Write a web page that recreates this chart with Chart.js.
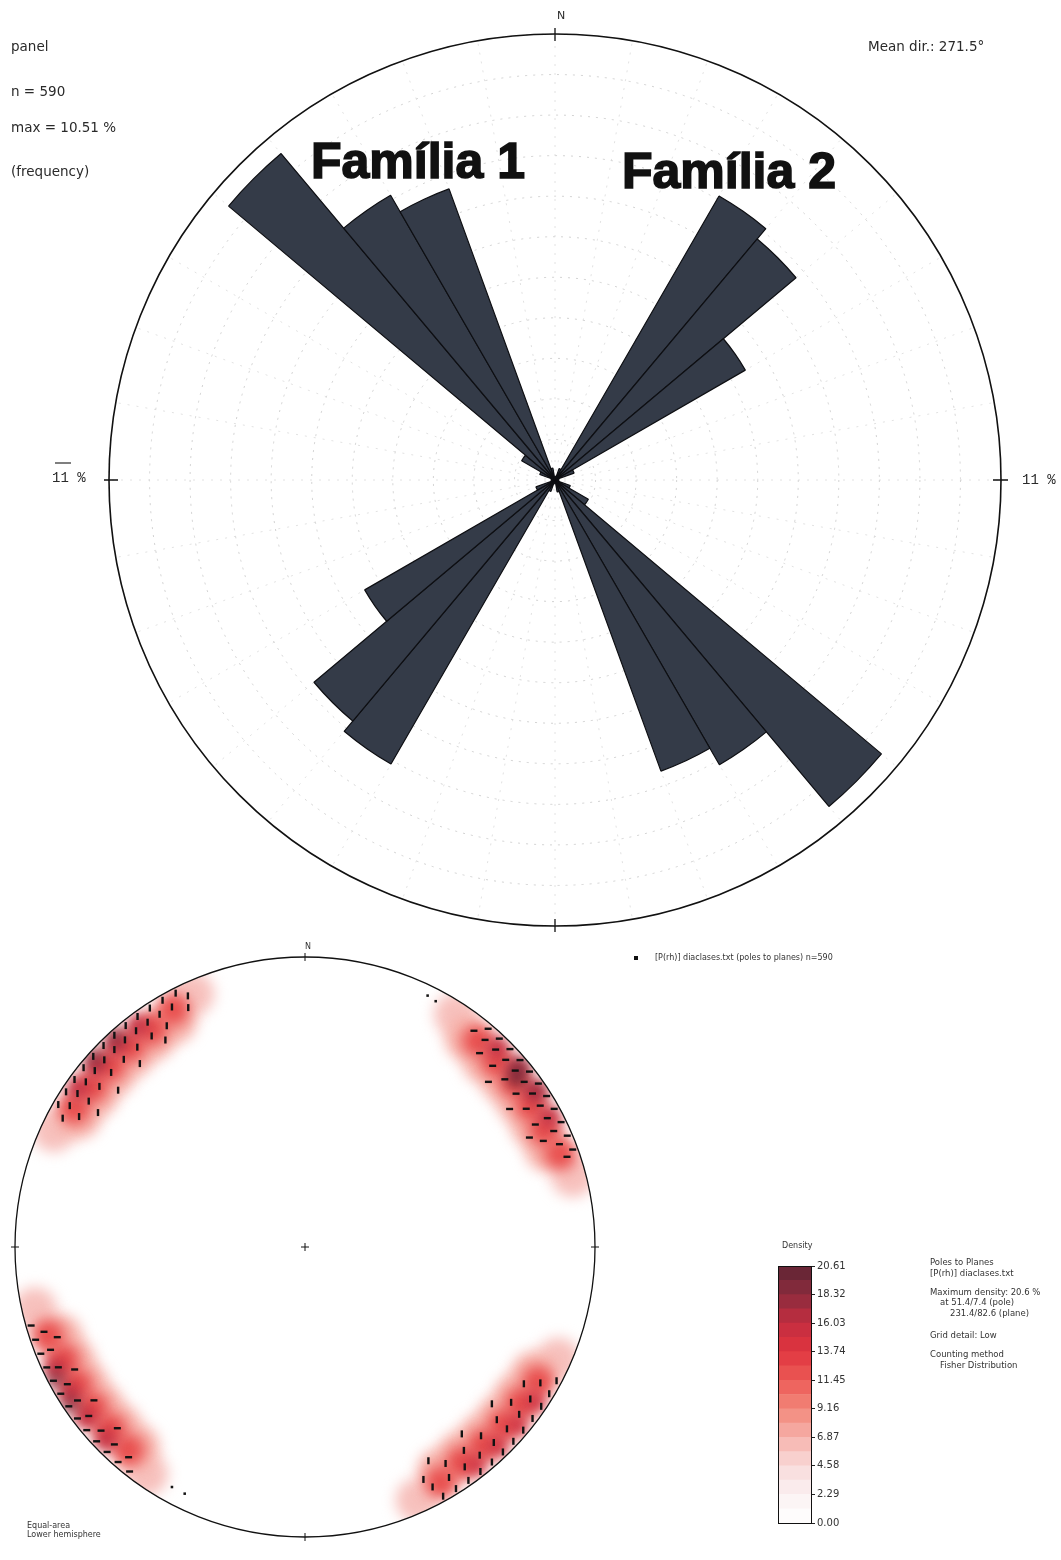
<!DOCTYPE html>
<html>
<head>
<meta charset="utf-8">
<script src="https://cdn.jsdelivr.net/npm/chart.js@4.4.0/dist/chart.umd.min.js"></script>
<style>
  html, body { margin: 0; padding: 0; background: #fff; }
  body { width: 1061px; height: 1560px; position: relative; overflow: hidden;
         font-family: 'DejaVu Sans', sans-serif; color: #2a2a2a; }
  .abs { position: absolute; }
  .tiny { font-size: 8px; line-height: 10px; white-space: pre; color: #333; }
  .info { font-size: 8.5px; line-height: 10px; white-space: pre; color: #333; }
</style>
</head>
<body>
<div class="abs" style="left:0;top:0;width:1061px;height:940px"><canvas id="rose" width="1061" height="940"></canvas></div>
<div class="abs" style="left:0;top:940px;width:1061px;height:620px"><canvas id="net" width="1061" height="620"></canvas></div>
<div class="abs" style="left:778px;top:1256px;width:80px;height:277px"><canvas id="cbar" width="80" height="277"></canvas></div>

<!-- legend + info block beside the stereonet -->
<div class="abs" style="left:634px;top:956px;width:4px;height:4px;background:#111"></div>
<div class="abs tiny" style="left:655px;top:953px">[P(rh)] diaclases.txt (poles to planes) n=590</div>
<div class="abs tiny" style="left:782px;top:1241px">Density</div>
<div class="abs info" style="left:930px;top:1257px">Poles to Planes</div>
<div class="abs info" style="left:930px;top:1268px">[P(rh)] diaclases.txt</div>
<div class="abs info" style="left:930px;top:1287px">Maximum density: 20.6 %</div>
<div class="abs info" style="left:940px;top:1297px">at 51.4/7.4 (pole)</div>
<div class="abs info" style="left:950px;top:1308px">231.4/82.6 (plane)</div>
<div class="abs info" style="left:930px;top:1330px">Grid detail: Low</div>
<div class="abs info" style="left:930px;top:1349px">Counting method</div>
<div class="abs info" style="left:940px;top:1360px">Fisher Distribution</div>
<div class="abs tiny" style="left:27px;top:1521px">Equal-area</div>
<div class="abs tiny" style="left:27px;top:1530px">Lower hemisphere</div>

<script>
// ---------------------------------------------------------------------------
// Rose diagram: 10° bins, clockwise from north (bidirectional data)
// ---------------------------------------------------------------------------
const binLabels = [
  '0-10', '10-20', '20-30', '30-40', '40-50', '50-60', '60-70', '70-80', '80-90',
  '90-100', '100-110', '110-120', '120-130', '130-140', '140-150', '150-160', '160-170', '170-180',
  '180-190', '190-200', '200-210', '210-220', '220-230', '230-240', '240-250', '250-260', '260-270',
  '270-280', '280-290', '290-300', '300-310', '310-320', '320-330', '330-340', '340-350', '350-360'
];
const roseFreq = [
  0.0, 0.1, 0.3, 8.09, 7.76, 5.42, 0.5, 0.1, 0.0,
  0.0, 0.1, 0.4, 0.95, 10.51, 8.11, 7.64, 0.3, 0.0,
  0.0, 0.1, 0.3, 8.09, 7.76, 5.42, 0.5, 0.1, 0.0,
  0.0, 0.1, 0.4, 0.95, 10.51, 8.11, 7.64, 0.3, 0.0
];
const roseMax = 11;

// ---------------------------------------------------------------------------
// Stereonet: poles to planes as [trend, plunge]
// ---------------------------------------------------------------------------
const polesNW = [
  [300, 2], [303, 2], [306, 2], [309, 2], [312, 2], [315, 2], [318, 2], [321, 2], [324, 2], [327, 2], [330, 2], [333, 2],
  [298, 6], [301, 6], [304, 6], [307, 6], [310, 6], [313, 6], [316, 6], [319, 6], [322, 6], [325, 6], [328, 6], [331, 6], [335, 5],
  [300, 11], [304, 11], [308, 11], [312, 11], [316, 11], [320, 11], [324, 11], [328, 11], [334, 9],
  [303, 16], [310, 17], [318, 16], [326, 15]
];
const polesNE = [
  [40, 2], [43, 2], [46, 2], [49, 2], [52, 2], [55, 2], [58, 2], [61, 2], [64, 2], [67, 2], [70, 2],
  [38, 6], [41, 6], [44, 6], [47, 6], [50, 6], [53, 6], [56, 6], [59, 6], [62, 6], [65, 6], [68, 6], [71, 5],
  [42, 11], [46, 11], [50, 11], [54, 11], [58, 11], [62, 11], [66, 11],
  [48, 16], [56, 16], [64, 15]
];
const polesSE = [
  [118, 2], [121, 2], [124, 2], [127, 2], [130, 2], [133, 2], [136, 2], [139, 2], [142, 2], [145, 2], [148, 2], [151, 2],
  [120, 7], [124, 7], [128, 7], [132, 7], [136, 7], [140, 7], [144, 7], [148, 7], [152, 7],
  [122, 12], [127, 12], [132, 12], [137, 12], [142, 12], [147, 12], [153, 11],
  [130, 17], [140, 17], [150, 16]
];
const polesSW = [
  [218, 2], [221, 2], [224, 2], [227, 2], [230, 2], [233, 2], [236, 2], [239, 2], [242, 2], [245, 2], [248, 2], [251, 2], [254, 2],
  [220, 6], [224, 6], [228, 6], [232, 6], [236, 6], [240, 6], [244, 6], [248, 6], [252, 6],
  [226, 11], [234, 11], [242, 11], [250, 10]
];
const polesStray = [[26, 4], [28, 4.5], [206, 6], [209, 6]];

// Fisher density cells: [trend, plunge, density %]
const densityCells = [
  // NW
  [295, 5, 6], [300, 11, 7], [306, 12, 7], [312, 12, 7], [318, 12, 7], [324, 12, 7], [330, 11, 7], [336, 5, 6],
  [301, 8, 12], [307, 9, 12], [313, 9, 12], [319, 9, 12], [325, 9, 12], [331, 7, 12],
  [305, 5, 16], [311, 5, 16], [317, 5, 16], [323, 5, 16],
  [312, 3, 19], [318, 3, 19],
  // NE
  [33, 5, 6], [38, 10, 7], [44, 12, 7], [50, 12, 7], [56, 12, 7], [62, 12, 7], [68, 11, 7], [75, 5, 6],
  [40, 8, 12], [46, 9, 12], [52, 9, 12], [58, 9, 12], [64, 9, 12], [70, 7, 12],
  [44, 5, 16], [50, 5, 16], [56, 5, 16], [62, 5, 16],
  [50, 4, 19], [56, 4, 18], [51.4, 7.4, 20.6],
  // SE
  [114, 5, 6], [119, 11, 7], [125, 12, 7], [131, 12, 7], [137, 12, 7], [143, 12, 7], [149, 11, 7], [156, 5, 6],
  [120, 8, 12], [126, 9, 12], [132, 9, 12], [138, 9, 12], [144, 9, 12], [150, 7, 12],
  [124, 5, 15], [130, 5, 15], [136, 5, 15], [142, 5, 15],
  // SW
  [215, 5, 6], [220, 11, 7], [226, 12, 7], [232, 12, 7], [238, 12, 7], [244, 12, 7], [250, 11, 7], [257, 5, 6],
  [221, 8, 12], [227, 9, 12], [233, 9, 12], [239, 9, 12], [245, 9, 12], [251, 7, 12],
  [226, 5, 16], [232, 5, 16], [238, 5, 16], [244, 5, 16],
  [236, 3, 19], [242, 3, 19]
];

// colour scale
const densityTicks = [0.00, 2.29, 4.58, 6.87, 9.16, 11.45, 13.74, 16.03, 18.32, 20.61];
const densityColors = ['#ffffff', '#fbf1f2', '#f8dada', '#f6b2ab', '#f2877a', '#ec5a56', '#e0353f', '#c22d40', '#8c2b3d', '#5f2534'];
const bandEdges = [0, 1.145, 2.29, 3.435, 4.58, 5.725, 6.87, 8.015, 9.16, 10.305,
                   11.45, 12.595, 13.74, 14.885, 16.03, 17.175, 18.32, 19.465, 20.61];

// ---------------------------------------------------------------------------
// helpers
// ---------------------------------------------------------------------------
function hexRgb(h) {
  const n = parseInt(h.slice(1), 16);
  return [(n >> 16) & 255, (n >> 8) & 255, n & 255];
}
function cmap(v) {
  if (v <= densityTicks[0]) return densityColors[0];
  for (let i = 1; i < densityTicks.length; i++) {
    if (v <= densityTicks[i]) {
      const t = (v - densityTicks[i - 1]) / (densityTicks[i] - densityTicks[i - 1]);
      const a = hexRgb(densityColors[i - 1]), b = hexRgb(densityColors[i]);
      const c = a.map((x, k) => Math.round(x + (b[k] - x) * t));
      return `rgb(${c[0]},${c[1]},${c[2]})`;
    }
  }
  return densityColors[densityColors.length - 1];
}
// Schmidt (equal-area, lower hemisphere) projection onto the unit circle
function project([trend, plunge]) {
  const r = Math.SQRT2 * Math.sin((90 - plunge) * Math.PI / 360);
  const t = trend * Math.PI / 180;
  return { x: r * Math.sin(t), y: r * Math.cos(t) };
}
function text(ctx, s, x, y, font, align = 'left', color = '#2a2a2a') {
  ctx.font = font;
  ctx.fillStyle = color;
  ctx.textAlign = align;
  ctx.textBaseline = 'middle';
  ctx.fillText(s, x, y);
}

// ---------------------------------------------------------------------------
// Rose chart
// ---------------------------------------------------------------------------
const roseDecor = {
  id: 'roseDecor',
  afterDraw(chart) {
    const { ctx } = chart;
    const r = chart.scales.r;
    const cx = r.xCenter, cy = r.yCenter, R = r.drawingArea;
    ctx.save();
    ctx.strokeStyle = '#111';
    ctx.lineWidth = 1.6;
    ctx.beginPath();
    ctx.arc(cx, cy, R, 0, Math.PI * 2);
    ctx.stroke();
    // cardinal ticks
    ctx.lineWidth = 1.3;
    ctx.beginPath();
    ctx.moveTo(cx, cy - R - 6); ctx.lineTo(cx, cy - R + 7);
    ctx.moveTo(cx, cy + R - 7); ctx.lineTo(cx, cy + R + 6);
    ctx.moveTo(cx - R - 5, cy); ctx.lineTo(cx - R + 9, cy);
    ctx.moveTo(cx + R - 8, cy); ctx.lineTo(cx + R + 7, cy);
    ctx.stroke();

    const f = "13.5px 'DejaVu Sans'";
    text(ctx, 'panel', 11, 47, f);
    text(ctx, 'n = 590', 11, 92, f);
    text(ctx, 'max = 10.51 %', 11, 128, f);
    text(ctx, '(frequency)', 11, 172, f);
    text(ctx, 'Mean dir.: 271.5°', 868, 47, f);
    text(ctx, 'N', cx + 6, 16, "11px 'DejaVu Sans'", 'center');
    const m = "14px 'Liberation Mono'";
    text(ctx, '11 %', 1022, 480, m);
    text(ctx, '11 %', 52, 478, m);
    ctx.strokeStyle = '#2a2a2a';
    ctx.lineWidth = 1.2;
    ctx.beginPath();
    ctx.moveTo(55, 463); ctx.lineTo(71, 463);
    ctx.stroke();

    // family labels
    ctx.font = "bold 50px 'Liberation Sans'";
    ctx.textAlign = 'left';
    ctx.textBaseline = 'alphabetic';
    ctx.fillStyle = '#111';
    ctx.strokeStyle = '#111';
    ctx.lineWidth = 1.6;
    ctx.fillText('Família 1', 311, 178);
    ctx.strokeText('Família 1', 311, 178);
    ctx.fillText('Família 2', 622, 188);
    ctx.strokeText('Família 2', 622, 188);
    ctx.restore();
  }
};

new Chart(document.getElementById('rose'), {
  type: 'polarArea',
  data: {
    labels: binLabels,
    datasets: [{
      data: roseFreq,
      backgroundColor: '#343b48',
      borderColor: '#0d0e12',
      borderWidth: 1.2,
    }],
  },
  options: {
    responsive: false,
    animation: false,
    events: [],
    layout: { padding: { left: 109, top: 34, right: 60, bottom: 14 }, autoPadding: false },
    plugins: { legend: { display: false }, tooltip: { enabled: false } },
    scales: {
      r: {
        min: 0,
        max: roseMax,
        ticks: { display: false, stepSize: 1 },
        grid: { color: '#cdcdcd', lineWidth: 0.9 },
        border: { dash: [2, 6] },
        angleLines: { display: true, color: '#dadada', lineWidth: 0.8, borderDash: [2, 7] },
        pointLabels: { display: false },
      },
    },
  },
  plugins: [roseDecor],
});

// ---------------------------------------------------------------------------
// Stereonet
// ---------------------------------------------------------------------------
function netGeom(chart) {
  const x = chart.scales.x, y = chart.scales.y;
  const cx = x.getPixelForValue(0), cy = y.getPixelForValue(0);
  return { cx, cy, R: x.getPixelForValue(1) - cx };
}

const netDecor = {
  id: 'netDecor',
  beforeDatasetDraw(chart, args) {
    if (chart.data.datasets[args.index].label !== 'density') return;
    const { ctx } = chart;
    const { cx, cy, R } = netGeom(chart);
    ctx.save();
    ctx.beginPath();
    ctx.arc(cx, cy, R, 0, Math.PI * 2);
    ctx.clip();
    ctx.filter = 'blur(7px)';
  },
  afterDatasetDraw(chart, args) {
    if (chart.data.datasets[args.index].label !== 'density') return;
    chart.ctx.restore();
  },
  afterDatasetsDraw(chart) {
    const { ctx } = chart;
    const { cx, cy, R } = netGeom(chart);
    ctx.save();
    ctx.strokeStyle = '#111';
    ctx.lineWidth = 1.3;
    ctx.beginPath();
    ctx.arc(cx, cy, R, 0, Math.PI * 2);
    ctx.stroke();
    ctx.lineWidth = 1;
    ctx.beginPath();
    ctx.moveTo(cx, cy - R - 4); ctx.lineTo(cx, cy - R + 4);
    ctx.moveTo(cx, cy + R - 4); ctx.lineTo(cx, cy + R + 4);
    ctx.moveTo(cx - R - 4, cy); ctx.lineTo(cx - R + 4, cy);
    ctx.moveTo(cx + R - 4, cy); ctx.lineTo(cx + R + 4, cy);
    ctx.moveTo(cx - 4, cy); ctx.lineTo(cx + 4, cy);
    ctx.moveTo(cx, cy - 4); ctx.lineTo(cx, cy + 4);
    ctx.stroke();
    ctx.restore();
    text(ctx, 'N', cx + 3, cy - R - 10, "8px 'DejaVu Sans'", 'center', '#333');
  }
};

const poleStyle = {
  pointStyle: 'line',
  pointRadius: 3.5,
  pointBorderWidth: 2.4,
  pointBorderColor: '#121212',
  order: 1,
};

new Chart(document.getElementById('net'), {
  type: 'scatter',
  data: {
    datasets: [
      { label: 'poles NW', data: polesNW.map(project), pointRotation: 90, ...poleStyle },
      { label: 'poles NE', data: polesNE.map(project), pointRotation: 0, ...poleStyle },
      { label: 'poles SE', data: polesSE.map(project), pointRotation: 90, ...poleStyle },
      { label: 'poles SW', data: polesSW.map(project), pointRotation: 0, ...poleStyle },
      {
        label: 'poles', data: polesStray.map(project), order: 1,
        pointStyle: 'rect', pointRadius: 1.8, pointBorderWidth: 0, pointBackgroundColor: '#141414',
      },
      {
        label: 'density',
        order: 2,
        data: densityCells.slice().sort((a, b) => a[2] - b[2])
          .map(d => ({ ...project(d), level: d[2] })),
        pointStyle: 'circle',
        pointRadius: c => !c.raw ? 10 : c.raw.level < 8 ? 22 : c.raw.level < 13 ? 16 : c.raw.level < 17 ? 11 : 8,
        pointBackgroundColor: c => c.raw ? cmap(c.raw.level) : '#fff',
        pointBorderWidth: 0,
      },
    ],
  },
  options: {
    responsive: false,
    animation: false,
    events: [],
    layout: { padding: { left: 0, top: 0, right: 451, bottom: 6 }, autoPadding: false },
    plugins: { legend: { display: false }, tooltip: { enabled: false } },
    scales: {
      x: { type: 'linear', min: -1.0517, max: 1.0517, display: false },
      y: { type: 'linear', min: -1.0586, max: 1.0586, display: false },
    },
  },
  plugins: [netDecor],
});

// ---------------------------------------------------------------------------
// Density colour bar
// ---------------------------------------------------------------------------
const frame = {
  id: 'frame',
  afterDraw(chart) {
    const { ctx, chartArea: a } = chart;
    ctx.save();
    ctx.strokeStyle = '#111';
    ctx.lineWidth = 1;
    ctx.strokeRect(a.left + 0.5, a.top + 0.5, a.right - a.left - 1, a.bottom - a.top);
    ctx.restore();
  }
};

new Chart(document.getElementById('cbar'), {
  type: 'bar',
  data: {
    labels: ['Density'],
    datasets: bandEdges.slice(0, -1).map((lo, i) => ({
      data: [[lo, bandEdges[i + 1]]],
      backgroundColor: cmap((lo + bandEdges[i + 1]) / 2),
      borderWidth: 0,
      barPercentage: 1,
      categoryPercentage: 1,
    })),
  },
  options: {
    responsive: false,
    animation: false,
    events: [],
    layout: { padding: { left: 0, right: 0, top: 10, bottom: 10 }, autoPadding: false },
    plugins: { legend: { display: false }, tooltip: { enabled: false } },
    scales: {
      x: { stacked: true, display: false },
      y: {
        position: 'right',
        min: 0,
        max: 20.61,
        afterBuildTicks: ax => { ax.ticks = densityTicks.map(v => ({ value: v })); },
        afterFit: ax => { ax.width = 46; },
        grid: { drawOnChartArea: false, tickLength: 3, color: '#222' },
        border: { display: false },
        ticks: {
          callback: v => Number(v).toFixed(2),
          font: { family: 'DejaVu Sans', size: 10 },
          color: '#333',
          padding: 2,
        },
      },
    },
  },
  plugins: [frame],
});
</script>
</body>
</html>
